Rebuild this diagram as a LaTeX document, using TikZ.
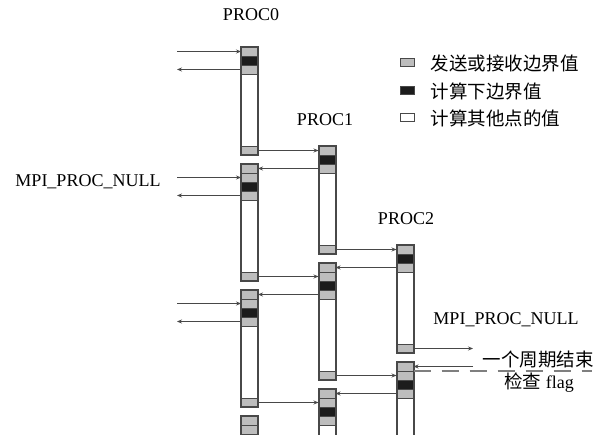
\documentclass[tikz,border=0pt]{standalone}
\usepackage{fontspec}
\setmainfont{Liberation Serif}
\newfontfamily\cjk{Noto Sans CJK SC}
\usetikzlibrary{arrows.meta,positioning}
\definecolor{edge}{HTML}{484848}
\definecolor{bound}{HTML}{BDBDBD}
\definecolor{lower}{HTML}{1C1C1C}

\tikzset{
  seg/.style={draw=edge, line width=0.9pt, fill=white, minimum width=17pt,
    minimum height=9pt, inner sep=0pt, outer sep=0pt, anchor=north},
  segbnd/.style={seg, fill=bound},
  seglow/.style={seg, fill=lower},
  segrest/.style={seg, minimum height=72pt},
  blkframe/.style={draw=edge, line width=2pt},
  link/.style={draw=edge, line width=0.8pt, -{Stealth[length=5pt,width=4pt]}},
  lbl/.style={font=\fontsize{18}{21}\selectfont, inner sep=0pt},
  cn/.style={font=\cjk\fontsize{18.5}{22}\selectfont, inner sep=0pt},
  legkey/.style={draw=edge, line width=1pt, minimum width=14pt,
    minimum height=8pt, inner sep=0pt},
}

% first block of a column: bound, lower, bound, rest, bound
\newcommand{\firstblock}[3]{%
  \node[segbnd] (#1-1) at (#2,#3) {};
  \node[seglow] (#1-2) at (#1-1.south) {};
  \node[segbnd] (#1-3) at (#1-2.south) {};
  \node[segrest] (#1-4) at (#1-3.south) {};
  \node[segbnd] (#1-5) at (#1-4.south) {};
  \draw[blkframe] (#1-1.north west) rectangle (#1-5.south east);
}
% later blocks: bound, bound, lower, bound, rest, bound
\newcommand{\nextblock}[3]{%
  \node[segbnd] (#1-1) at (#2,#3) {};
  \node[segbnd] (#1-2) at (#1-1.south) {};
  \node[seglow] (#1-3) at (#1-2.south) {};
  \node[segbnd] (#1-4) at (#1-3.south) {};
  \node[segrest] (#1-5) at (#1-4.south) {};
  \node[segbnd] (#1-6) at (#1-5.south) {};
  \draw[blkframe] (#1-1.north west) rectangle (#1-6.south east);
}

\begin{document}
\begin{tikzpicture}[x=1pt,y=-1pt]
  \useasboundingbox (0,0) rectangle (607,435);
  \clip (0,0) rectangle (607,435);

  % PROC0
  \firstblock{p0a}{249.5}{47}
  \nextblock{p0b}{249.5}{164}
  \nextblock{p0c}{249.5}{290}
  \nextblock{p0d}{249.5}{416}
  % PROC1
  \firstblock{p1a}{327}{146}
  \nextblock{p1b}{327}{263}
  \nextblock{p1c}{327}{389}
  % PROC2
  \firstblock{p2a}{405}{245}
  \nextblock{p2b}{405}{362}

  % labels
  \node[lbl] (proc0) at (251,15) {PROC0};
  \node[lbl] (proc1) at (325,120) {PROC1};
  \node[lbl] (proc2) at (406,219) {PROC2};
  \node[lbl] (nullL) at (88,182) {MPI\_PROC\_NULL};
  \node[lbl] (nullR) at (506,320) {MPI\_PROC\_NULL};
  \node[cn] (cycle) at (538,360) {一个周期结束};
  \node[lbl] (flag) at (539,383) {{\cjk\fontsize{18.5}{22}\selectfont 检查} flag};

  % legend
  \node[legkey, fill=bound] (k1) at (407,63) {};
  \node[legkey, fill=lower] (k2) at (407,91) {};
  \node[legkey, fill=white] (k3) at (407,118) {};
  \node[cn, right=16pt of k1] (t1) {发送或接收边界值};
  \node[cn, right=16pt of k2] (t2) {计算下边界值};
  \node[cn, right=16pt of k3] (t3) {计算其他点的值};

  % boundary exchange with MPI_PROC_NULL
  \coordinate (lfree) at (177,0);
  \foreach \b/\i/\o in {p0a/1/3, p0b/2/4, p0c/2/4} {
    \draw[link] (\b-\i.west -| lfree) -- (\b-\i.west);
    \draw[link] (\b-\o.west) -- (\b-\o.west -| lfree);
  }

  % PROC0 <-> PROC1
  \draw[link] (p0a-5.east) -- (p1a-1.west);
  \draw[link] (p1a-3.west) -- (p0b-1.east);
  \draw[link] (p0b-6.east) -- (p1b-2.west);
  \draw[link] (p1b-4.west) -- (p0c-1.east);
  \draw[link] (p0c-6.east) -- (p1c-2.west);
  % PROC1 <-> PROC2
  \draw[link] (p1a-5.east) -- (p2a-1.west);
  \draw[link] (p2a-3.west) -- (p1b-1.east);
  \draw[link] (p1b-6.east) -- (p2b-2.west);
  \draw[link] (p2b-4.west) -- (p1c-1.east);

  % PROC2 <-> MPI_PROC_NULL, end of one period
  \coordinate (rfree) at (473,0);
  \coordinate (dend) at (592,0);
  \draw[link] (p2a-5.east) -- (p2a-5.east -| rfree);
  \draw[link] (p2b-1.east -| rfree) -- (p2b-1.east);
  \draw[draw=edge!70, line width=1.2pt, dash pattern=on 17pt off 11pt]
    (p2b-1.south east) -- (p2b-1.south east -| dend);
\end{tikzpicture}
\end{document}
